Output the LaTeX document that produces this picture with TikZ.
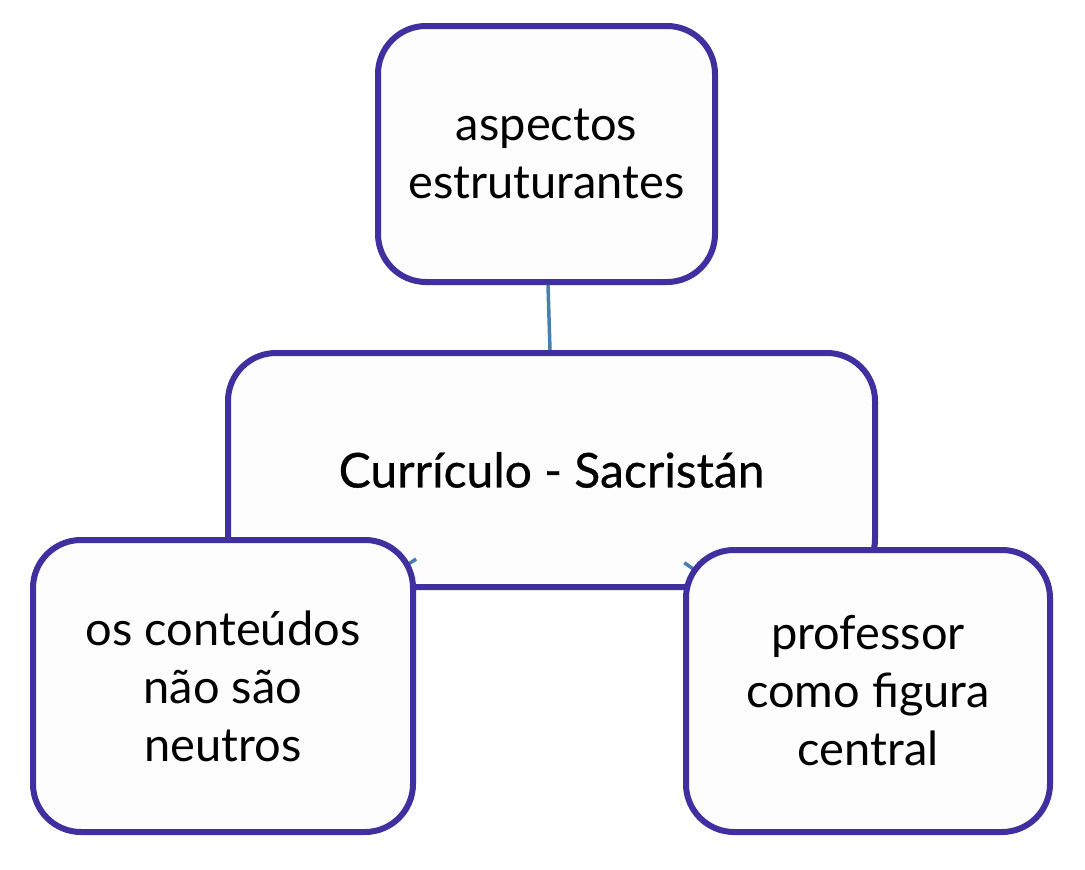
\documentclass[tikz,border=0pt]{standalone}
\usepackage{fontspec}
\setmainfont{Lato}
\newfontfamily\titlefont{Lato}[FakeBold=0.6]
\usepackage{xcolor}
\usetikzlibrary{positioning}
\definecolor{frame}{HTML}{40309F}
\definecolor{link}{HTML}{4A7DB0}
\definecolor{boxfill}{HTML}{FDFDFD}

\begin{document}
\begin{tikzpicture}[
  x=1pt, y=-1pt,
  box/.style={rectangle, rounded corners=48pt, draw=frame, fill=boxfill, line width=6pt,
    align=center, inner sep=0pt, font=\fontsize{47}{58}\selectfont},
  conn/.style={draw=link, line width=3.5pt}
]
  \useasboundingbox[fill=white] (0,0) rectangle (1085,870);
  % top
  \node[box, minimum width=337pt, minimum height=256pt] (aspectos) at (546.5,154) {aspectos\\estruturantes};
  % centre
  \node[box, minimum width=647pt, minimum height=234pt, font=\titlefont\fontsize{48}{58}\selectfont] (curriculo) at (551.5,470) {Currículo - Sacristán};
  \draw[conn] ([xshift=1.5pt]aspectos.south) -- ([xshift=-1.5pt]curriculo.north);
  \draw[conn, shorten <=162pt] (curriculo.center) -- (223,686);
  \draw[conn, shorten <=162pt] (curriculo.center) -- (868,691);
  % bottom
  \node[box, minimum width=380pt, minimum height=292pt] (conteudos) at (223,686) {os conteúdos\\não são\\neutros};
  \node[box, minimum width=364pt, minimum height=282pt] (professor) at (868,691) {professor\\como figura\\central};
\end{tikzpicture}
\end{document}
